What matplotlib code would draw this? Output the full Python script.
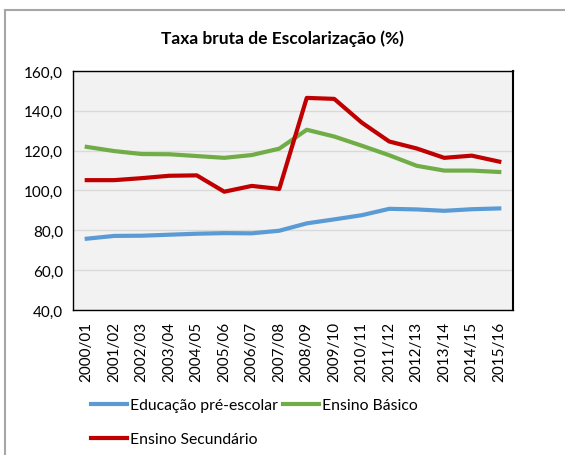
import matplotlib
matplotlib.use("Agg")
import matplotlib.pyplot as plt
from matplotlib.lines import Line2D

plt.rcParams["font.family"] = ["Lato", "DejaVu Sans"]

# Data
anos = ["2000/01", "2001/02", "2002/03", "2003/04", "2004/05", "2005/06",
        "2006/07", "2007/08", "2008/09", "2009/10", "2010/11", "2011/12",
        "2012/13", "2013/14", "2014/15", "2015/16"]
pre_escolar = [75.8, 77.2, 77.3, 77.8, 78.3, 78.6, 78.5, 79.8,
               83.5, 85.5, 87.6, 90.8, 90.5, 89.8, 90.6, 91.0]
basico = [121.9, 119.8, 118.3, 118.2, 117.3, 116.4, 117.8, 121.0,
          130.5, 127.1, 122.5, 117.7, 112.4, 110.0, 110.0, 109.3]
secundario = [105.2, 105.2, 106.2, 107.4, 107.6, 99.4, 102.3, 100.8,
              146.5, 146.0, 134.1, 124.6, 121.1, 116.4, 117.5, 114.5]

fig = plt.figure(figsize=(5.65, 4.56), dpi=100)
ax = fig.add_axes([73 / 565, 1 - 311 / 456, 440 / 565, 239 / 456])

x = range(len(anos))
l1, = ax.plot(x, pre_escolar, color="#5B9BD5", lw=3, label="Educação pré-escolar")
l2, = ax.plot(x, basico, color="#70AD47", lw=3, label="Ensino Básico")
l3, = ax.plot(x, secundario, color="#C00000", lw=3, label="Ensino Secundário")

ax.set_facecolor("#F2F2F2")
ax.set_xlim(-0.5, len(anos) - 0.5)
ax.set_ylim(40, 160)
ax.set_yticks(range(40, 161, 20))
ax.set_yticklabels([f"{v},0" for v in range(40, 161, 20)])
ax.set_xticks(list(x))
ax.set_xticklabels(anos, rotation=90)
ax.tick_params(axis="both", length=0, labelsize=11, colors="black")
ax.tick_params(axis="x", pad=8)
ax.tick_params(axis="y", pad=7)
ax.grid(axis="y", color="#D9D9D9", lw=1)
ax.set_axisbelow(True)
for s in ax.spines.values():
    s.set_color("black")
    s.set_linewidth(1)
ax.spines["right"].set_linewidth(1.5)

fig.text(0.5, 1 - 39 / 456, "Taxa bruta de Escolarização (%)",
         ha="center", va="center", fontsize=12.5, fontweight="bold")

fig.legend(handles=[l1, l3, l2], ncol=2, loc="upper left",
           bbox_to_anchor=(91 / 565, 1 - 399 / 456), frameon=False,
           fontsize=11.3, handlelength=2.3, handletextpad=0.2,
           columnspacing=0.3, labelspacing=1.3, borderpad=0, borderaxespad=0)

# outer chart border (top and left edges visible)
fig.add_artist(Line2D([5 / 565, 1.0], [1 - 11 / 456, 1 - 11 / 456],
                      transform=fig.transFigure, color="#A6A6A6", lw=1.5))
fig.add_artist(Line2D([5 / 565, 5 / 565], [0.0, 1 - 11 / 456],
                      transform=fig.transFigure, color="#A6A6A6", lw=1.5))

fig.savefig("out.png", dpi=100, facecolor="white")
